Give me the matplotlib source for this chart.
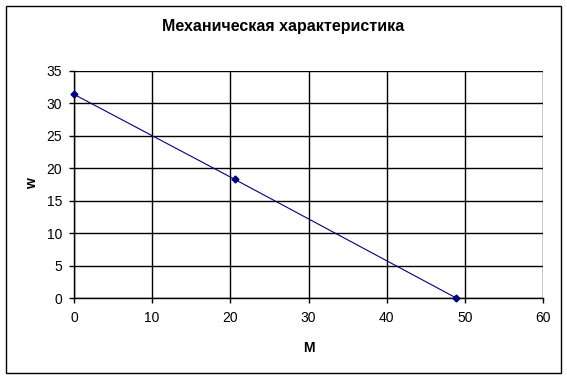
import matplotlib
matplotlib.use("Agg")
import matplotlib.pyplot as plt
from matplotlib.patches import Rectangle

M = [0, 20.55, 48.9]
w = [31.4, 18.3, 0]
x_ticks = [0, 10, 20, 30, 40, 50, 60]
y_ticks = [0, 5, 10, 15, 20, 25, 30, 35]
title = "Механическая характеристика"

plt.rcParams['font.family'] = ['Liberation Sans', 'DejaVu Sans']

W, H = 567, 377
fig = plt.figure(figsize=(W / 100, H / 100), dpi=100)
fig.patch.set_facecolor("white")

# outer chart border
fig.patches.append(Rectangle((5.5 / W, (H - 372.5) / H), (561 - 5.5) / W, (372.5 - 5.5) / H,
                             transform=fig.transFigure, fill=False, edgecolor="black", linewidth=1))

l, r, t, b = 74, 543, 71, 298
ax = fig.add_axes([l / W, (H - b) / H, (r - l) / W, (b - t) / H])
ax.set_xlim(0, 60)
ax.set_ylim(0, 35)
ax.set_xticks(x_ticks)
ax.set_yticks(y_ticks)
ax.grid(True, color="black", linewidth=1)
ax.set_axisbelow(True)
for s in ["top", "right"]:
    ax.spines[s].set_visible(False)
for s in ["left", "bottom"]:
    ax.spines[s].set_linewidth(1)
ax.tick_params(direction="out", length=3.6, width=1, labelsize=10)
ax.tick_params(axis="x", pad=6)
ax.tick_params(axis="y", pad=5)

ax.plot(M, w, color="#000080", linewidth=0.8, marker="D", markersize=3.5,
        markerfacecolor="#000080", markeredgecolor="#000080", clip_on=False, zorder=3)

fig.text(283.5 / W, 1 - 27 / H, title, ha="center", va="center", fontsize=11.5, fontweight="bold")
fig.text(309 / W, 1 - 348 / H, "M", ha="center", va="center", fontsize=10, fontweight="bold")
fig.text(32 / W, 1 - 184 / H, "w", ha="center", va="center", fontsize=10, fontweight="bold", rotation=90)

fig.savefig("out.png", dpi=100)
